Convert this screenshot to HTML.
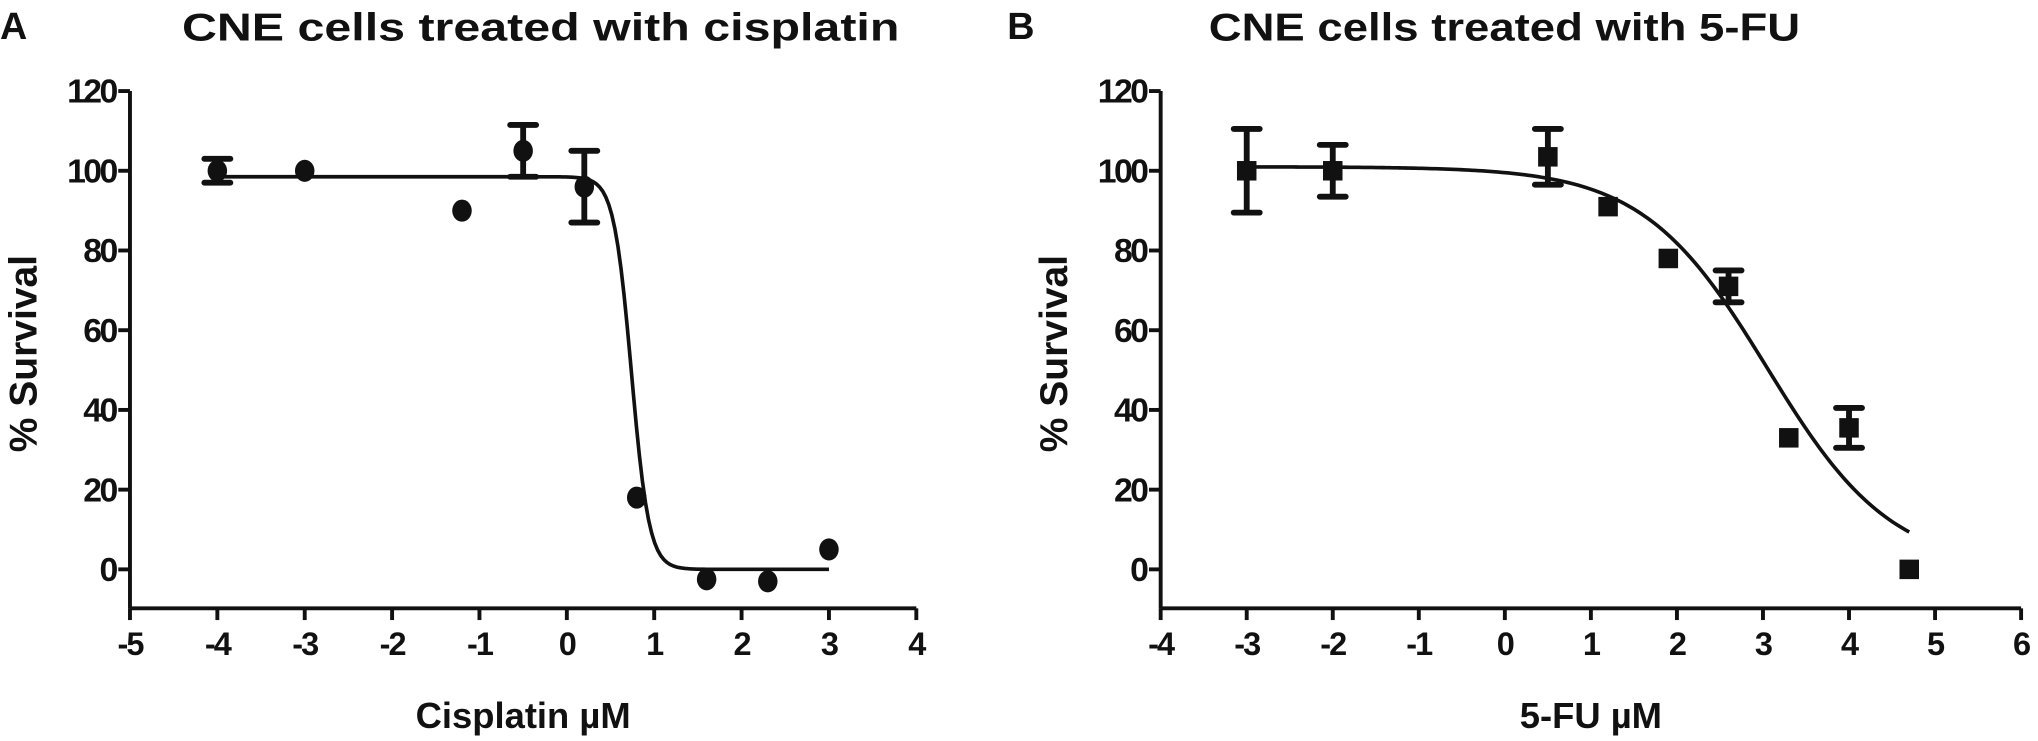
<!DOCTYPE html>
<html><head><meta charset="utf-8"><style>
html,body{margin:0;padding:0;background:#fff;}
svg{display:block;font-family:"Liberation Sans",Arial,sans-serif;font-weight:bold;fill:#111;}
</style></head><body>
<svg id="fig" width="2038" height="741" viewBox="0 0 1568 570" xmlns="http://www.w3.org/2000/svg">
<g id="pa"></g>
<g id="pb"></g>
</svg>
<script>
// Panel A data
const aX = [-4, -3, -1.2, -0.5, 0.2, 0.8, 1.6, 2.3, 3];
const aY = [100, 100, 90, 105, 96, 18, -2.5, -3, 5];
const aErr = [3, 0, 0, 6.5, 9, 0, 0, 0, 0];
const aFit = {top: 98.5, bottom: 0, x0: 0.74, hill: 4.3, from: -4, to: 3};
const aXTicks = [-5, -4, -3, -2, -1, 0, 1, 2, 3, 4];
// Panel B data
const bX = [-3, -2, 0.5, 1.2, 1.9, 2.6, 3.3, 4, 4.7];
const bY = [100, 100, 103.5, 91, 78, 71, 33, 35.5, 0];
const bErr = [10.5, 6.5, 7, 0, 0, 4, 0, 5, 0];
const bFit = {top: 101, bottom: 0, x0: 3.05, hill: 0.6, from: -3, to: 4.7};
const bXTicks = [-4, -3, -2, -1, 0, 1, 2, 3, 4, 5, 6];
const yTicks = [0, 20, 40, 60, 80, 100, 120];

const NS = "http://www.w3.org/2000/svg";
function mk(parent, tag, attrs, text) {
  const e = document.createElementNS(NS, tag);
  for (const k in attrs) e.setAttribute(k, attrs[k]);
  if (text !== undefined) e.textContent = text;
  parent.appendChild(e);
  return e;
}

function panel(g, cfg) {
  const {x0px, x1px, xmin, xmax, xs, ys, errs, fit, xticks, title, letter, xlabel, titleX, titleW, marker} = cfg;
  const yTop = 70, yZero = 438, yBot = 468;
  const sx = v => x0px + (v - xmin) / (xmax - xmin) * (x1px - x0px);
  const sy = v => yZero - v * (yZero - yTop) / 120;

  const l = mk(g, "text", {x: letter === "A" ? 0 : 775, y: 30, "font-size": 29}, letter);
  
  
  const t = mk(g, "text", {x: titleX, y: 31, "font-size": 30, textLength: titleW, lengthAdjust: "spacingAndGlyphs"}, title);
  
  

  const ya = mk(g, "line", {x1: x0px, y1: yTop, x2: x0px, y2: yBot, stroke: "#111", "stroke-width": 3});
  
  
  yTicks.forEach(v => {
    const tk = mk(g, "line", {x1: x0px - 9, y1: sy(v), x2: x0px, y2: sy(v), stroke: "#111", "stroke-width": 3});
    
    
    const tl = mk(g, "text", {x: x0px - 11, y: sy(v) + 9, "font-size": 26, "text-anchor": "end", "letter-spacing": -2}, String(v));
    
    
  });
  const xa = mk(g, "line", {x1: x0px, y1: yBot, x2: x1px, y2: yBot, stroke: "#111", "stroke-width": 3});
  
  
  xticks.forEach(v => {
    const tk = mk(g, "line", {x1: sx(v), y1: yBot, x2: sx(v), y2: yBot + 9, stroke: "#111", "stroke-width": 3});
    
    
    const tl = mk(g, "text", {x: sx(v), y: yBot + 36, "font-size": 25, "text-anchor": "middle", "letter-spacing": -1.5}, String(v));
    
    
  });
  const yl = mk(g, "text", {x: 0, y: 0, "font-size": 30, "text-anchor": "middle", transform: `translate(${x0px - 72},272) rotate(-90)`}, "% Survival");
  
  
  const xl = mk(g, "text", {x: sx((xmin + xmax) / 2), y: 560, "font-size": 28, "text-anchor": "middle", "xml:space": "preserve"}, xlabel);
  
  

  let d = "";
  const n = 200;
  for (let i = 0; i <= n; i++) {
    const x = fit.from + (fit.to - fit.from) * i / n;
    const y = fit.bottom + (fit.top - fit.bottom) / (1 + Math.pow(10, (x - fit.x0) * fit.hill));
    d += (i ? "L" : "M") + sx(x).toFixed(2) + "," + sy(y).toFixed(2);
  }
  const c = mk(g, "path", {d: d, fill: "none", stroke: "#111", "stroke-width": 2.8});
  
  

  xs.forEach((x, i) => {
    const cx = sx(x), cy = sy(ys[i]);
    if (errs[i] > 0) {
      const e1 = sy(ys[i] + errs[i]), e2 = sy(ys[i] - errs[i]);
      const eb = mk(g, "path", {d: `M${cx},${e1}L${cx},${e2}M${cx - 10},${e1}L${cx + 10},${e1}M${cx - 10},${e2}L${cx + 10},${e2}`, stroke: "#111", "stroke-width": 4.5, "stroke-linecap": "round", fill: "none"});
      
      
    }
    let m;
    if (marker === "circle") m = mk(g, "ellipse", {cx: cx, cy: cy, rx: 7.5, ry: 8.5, fill: "#111"});
    else m = mk(g, "rect", {x: cx - 7.5, y: cy - 7.5, width: 15, height: 15, fill: "#111"});
    
    
  });
}

panel(document.getElementById("pa"), {x0px: 100, x1px: 705, xmin: -5, xmax: 4, xs: aX, ys: aY, errs: aErr, fit: aFit, xticks: aXTicks,
  title: "CNE cells treated with  cisplatin", letter: "A", xlabel: "Cisplatin  \u00b5M", titleX: 140, titleW: 552, marker: "circle"});
panel(document.getElementById("pb"), {x0px: 893, x1px: 1555, xmin: -4, xmax: 6, xs: bX, ys: bY, errs: bErr, fit: bFit, xticks: bXTicks,
  title: "CNE cells treated with 5-FU", letter: "B", xlabel: "5-FU  \u00b5M", titleX: 930, titleW: 455, marker: "square"});
</script>
</body></html>
